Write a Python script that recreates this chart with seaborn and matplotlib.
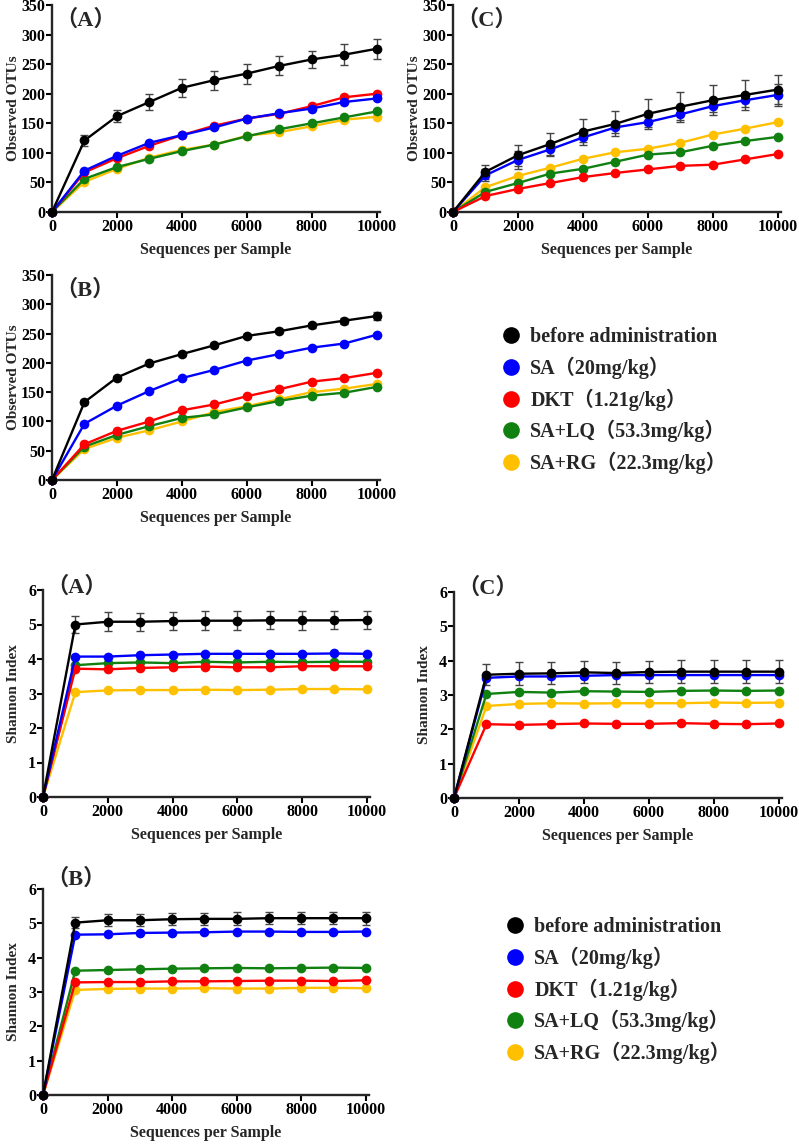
import numpy as np
import pandas as pd
import matplotlib
matplotlib.use("Agg")
import matplotlib.pyplot as plt
from matplotlib.lines import Line2D
import seaborn as sns

# ---------------- data ----------------
seqs = [0, 1000, 2000, 3000, 4000, 5000, 6000, 7000, 8000, 9000, 10000]
groups = ["before administration", "SA（20mg/kg）", "DKT（1.21g/kg）",
          "SA+LQ（53.3mg/kg）", "SA+RG（22.3mg/kg）"]
colors = ["#000000", "#0000FF", "#FF0000", "#108010", "#FFC000"]

# Observed OTUs, panel A
otu_A_before = [0, 121, 162, 186, 210, 223, 234, 247, 258, 266, 276]
otu_A_SA     = [0, 70, 95, 117, 130, 143, 158, 167, 175, 186, 192]
otu_A_DKT    = [0, 67, 91, 112, 130, 146, 158, 166, 179, 194, 200]
otu_A_LQ     = [0, 56, 76, 90, 103, 114, 128, 140, 150, 160, 170]
otu_A_RG     = [0, 51, 73, 92, 105, 114, 129, 135, 145, 156, 161]
otu_A_err    = [0, 10, 10, 13, 15, 16, 17, 16, 15, 18, 17]

# Observed OTUs, panel B
otu_B_before = [0, 133, 175, 199, 215, 230, 246, 254, 264, 272, 280]
otu_B_SA     = [0, 96, 127, 152, 174, 188, 204, 215, 226, 233, 248]
otu_B_DKT    = [0, 61, 84, 100, 119, 129, 143, 155, 168, 174, 183]
otu_B_LQ     = [0, 57, 77, 92, 106, 112, 124, 135, 144, 149, 159]
otu_B_RG     = [0, 53, 72, 85, 100, 116, 126, 138, 150, 156, 164]
otu_B_err    = [0, 3, 3, 3, 3, 3, 3, 3, 4, 5, 7]

# Observed OTUs, panel C
otu_C_before = [0, 68, 96, 115, 136, 149, 166, 178, 189, 198, 207]
otu_C_SA     = [0, 62, 88, 106, 126, 143, 152, 165, 179, 189, 198]
otu_C_DKT    = [0, 27, 39, 49, 59, 66, 72, 78, 80, 89, 98]
otu_C_LQ     = [0, 34, 49, 65, 73, 85, 97, 101, 112, 120, 127]
otu_C_RG     = [0, 42, 61, 75, 90, 101, 107, 117, 131, 141, 152]
otu_C_err_before = [0, 12, 18, 19, 22, 21, 25, 25, 25, 26, 25]
otu_C_err_SA     = [0, 10, 15, 12, 8, 10, 9, 10, 10, 12, 19]

# Shannon index, panel A
sh_A_before = [0, 5.00, 5.08, 5.08, 5.10, 5.11, 5.11, 5.12, 5.12, 5.12, 5.13]
sh_A_SA     = [0, 4.07, 4.07, 4.11, 4.13, 4.15, 4.15, 4.15, 4.15, 4.16, 4.15]
sh_A_DKT    = [0, 3.72, 3.70, 3.74, 3.76, 3.78, 3.76, 3.76, 3.79, 3.79, 3.79]
sh_A_LQ     = [0, 3.82, 3.88, 3.90, 3.88, 3.92, 3.90, 3.92, 3.91, 3.92, 3.92]
sh_A_RG     = [0, 3.04, 3.09, 3.10, 3.10, 3.11, 3.10, 3.11, 3.13, 3.13, 3.12]
sh_A_err    = [0, 0.25, 0.27, 0.26, 0.27, 0.27, 0.27, 0.26, 0.27, 0.26, 0.27]

# Shannon index, panel B
sh_B_before = [0, 5.02, 5.09, 5.09, 5.12, 5.13, 5.13, 5.15, 5.15, 5.15, 5.15]
sh_B_SA     = [0, 4.67, 4.68, 4.72, 4.73, 4.74, 4.76, 4.76, 4.75, 4.75, 4.76]
sh_B_DKT    = [0, 3.28, 3.29, 3.29, 3.31, 3.31, 3.32, 3.33, 3.33, 3.32, 3.34]
sh_B_LQ     = [0, 3.62, 3.64, 3.66, 3.68, 3.69, 3.70, 3.69, 3.70, 3.71, 3.70]
sh_B_RG     = [0, 3.06, 3.09, 3.10, 3.10, 3.11, 3.10, 3.10, 3.12, 3.12, 3.11]
sh_B_err    = [0, 0.17, 0.17, 0.18, 0.18, 0.18, 0.19, 0.17, 0.18, 0.18, 0.19]

# Shannon index, panel C
sh_C_before = [0, 3.59, 3.62, 3.63, 3.66, 3.64, 3.67, 3.68, 3.68, 3.68, 3.68]
sh_C_SA     = [0, 3.50, 3.54, 3.54, 3.56, 3.58, 3.58, 3.58, 3.58, 3.58, 3.58]
sh_C_DKT    = [0, 2.15, 2.13, 2.15, 2.17, 2.16, 2.16, 2.18, 2.16, 2.15, 2.17]
sh_C_LQ     = [0, 3.03, 3.09, 3.07, 3.11, 3.10, 3.09, 3.12, 3.13, 3.12, 3.13]
sh_C_RG     = [0, 2.68, 2.74, 2.76, 2.75, 2.76, 2.76, 2.76, 2.78, 2.77, 2.78]
sh_C_err    = [0, 0.30, 0.33, 0.32, 0.32, 0.33, 0.33, 0.33, 0.33, 0.33, 0.33]

# ---------------- style ----------------
sns.set_style("ticks")
plt.rcParams["font.family"] = ["Liberation Serif", "Noto Sans CJK SC"]
plt.rcParams["font.weight"] = "bold"
plt.rcParams["axes.labelweight"] = "bold"
plt.rcParams["axes.linewidth"] = 1.7
plt.rcParams["xtick.major.width"] = 1.5
plt.rcParams["ytick.major.width"] = 1.5
plt.rcParams["xtick.major.size"] = 4
plt.rcParams["ytick.major.size"] = 4
plt.rcParams["xtick.color"] = "black"
plt.rcParams["ytick.color"] = "black"

W, H = 799, 1146
fig = plt.figure(figsize=(W / 100, H / 100), dpi=100)


def axes_px(left, right, top, bottom):
    return fig.add_axes([left / W, 1 - bottom / H, (right - left) / W, (bottom - top) / H])


def make_df(series):
    rows = []
    for g, vals in zip(groups, series):
        for s, v in zip(seqs, vals):
            rows.append({"Sequences": s, "value": v, "group": g})
    return pd.DataFrame(rows)


def draw_panel(ax, series, errs, ymax, ystep, ylabel, tag, tag_x, tag_y, ylpad):
    df = make_df(series)
    for idx, e in errs:
        ax.errorbar(seqs, series[idx], yerr=e, fmt="none", ecolor="#444444",
                    elinewidth=1.0, capsize=3, capthick=1.0, zorder=1, clip_on=False)
    order = [4, 3, 2, 1, 0]
    for i in order:
        sub = df[df["group"] == groups[i]]
        sns.lineplot(data=sub, x="Sequences", y="value", ax=ax, color=colors[i],
                     marker="o", markersize=7, markeredgewidth=0, linewidth=1.7,
                     legend=False, zorder=3 + (4 - i), clip_on=False)
    ax.set_xlim(0, 10100)
    ax.set_ylim(0, ymax)
    ax.set_xticks([0, 2000, 4000, 6000, 8000, 10000])
    ax.set_yticks(np.arange(0, ymax + 0.001, ystep))
    ax.yaxis.set_major_formatter(matplotlib.ticker.FormatStrFormatter("%d"))
    ax.tick_params(labelsize=11.5, pad=1)
    for lab in ax.get_xticklabels() + ax.get_yticklabels():
        lab.set_fontweight("bold")
    ax.set_xlabel("Sequences per Sample", fontsize=11.5, fontweight="bold", labelpad=5)
    ax.set_ylabel(ylabel, fontsize=11, fontweight="bold", labelpad=ylpad)
    sns.despine(ax=ax)
    ax.text(tag_x, tag_y, tag, transform=ax.transAxes, fontsize=16,
            fontweight="bold", ha="left", va="center")


# OTU panels
ax1 = axes_px(52, 380, 5, 212)
draw_panel(ax1, [otu_A_before, otu_A_SA, otu_A_DKT, otu_A_LQ, otu_A_RG],
           [(0, otu_A_err)], 350, 50, "Observed OTUs", "（A）", 0.01, 0.925, 1)

ax2 = axes_px(453, 781, 5, 212)
draw_panel(ax2, [otu_C_before, otu_C_SA, otu_C_DKT, otu_C_LQ, otu_C_RG],
           [(0, otu_C_err_before), (1, otu_C_err_SA)], 350, 50, "Observed OTUs", "（C）", 0.01, 0.925, 1)

ax3 = axes_px(52, 380, 275, 480)
draw_panel(ax3, [otu_B_before, otu_B_SA, otu_B_DKT, otu_B_LQ, otu_B_RG],
           [(0, otu_B_err)], 350, 50, "Observed OTUs", "（B）", 0.01, 0.925, 1)

# Shannon panels
ax4 = axes_px(43, 370, 590, 797)
draw_panel(ax4, [sh_A_before, sh_A_SA, sh_A_DKT, sh_A_LQ, sh_A_RG],
           [(0, sh_A_err)], 6, 1, "Shannon Index", "（A）", 0.01, 1.015, 6)

ax5 = axes_px(454, 782, 592, 798)
draw_panel(ax5, [sh_C_before, sh_C_SA, sh_C_DKT, sh_C_LQ, sh_C_RG],
           [(0, sh_C_err)], 6, 1, "Shannon Index", "（C）", 0.01, 1.02, 6)

ax6 = axes_px(43, 369, 889, 1095)
draw_panel(ax6, [sh_B_before, sh_B_SA, sh_B_DKT, sh_B_LQ, sh_B_RG],
           [(0, sh_B_err)], 6, 1, "Shannon Index", "（B）", 0.01, 1.05, 6)

# legends
handles = [Line2D([0], [0], marker="o", linestyle="none", markersize=12,
                  markerfacecolor=c, markeredgewidth=0) for c in colors]
for top_px, xm in [(335, 511), (925, 515)]:
    fig.legend(handles, groups, loc="upper left",
               bbox_to_anchor=((xm - 10) / W, 1 - (top_px - 8) / H),
               frameon=False, handlelength=1.0, handletextpad=0.45,
               labelspacing=0.47, borderpad=0, borderaxespad=0,
               prop={"weight": "bold", "size": 14.5})

fig.savefig("out.png", dpi=100)
